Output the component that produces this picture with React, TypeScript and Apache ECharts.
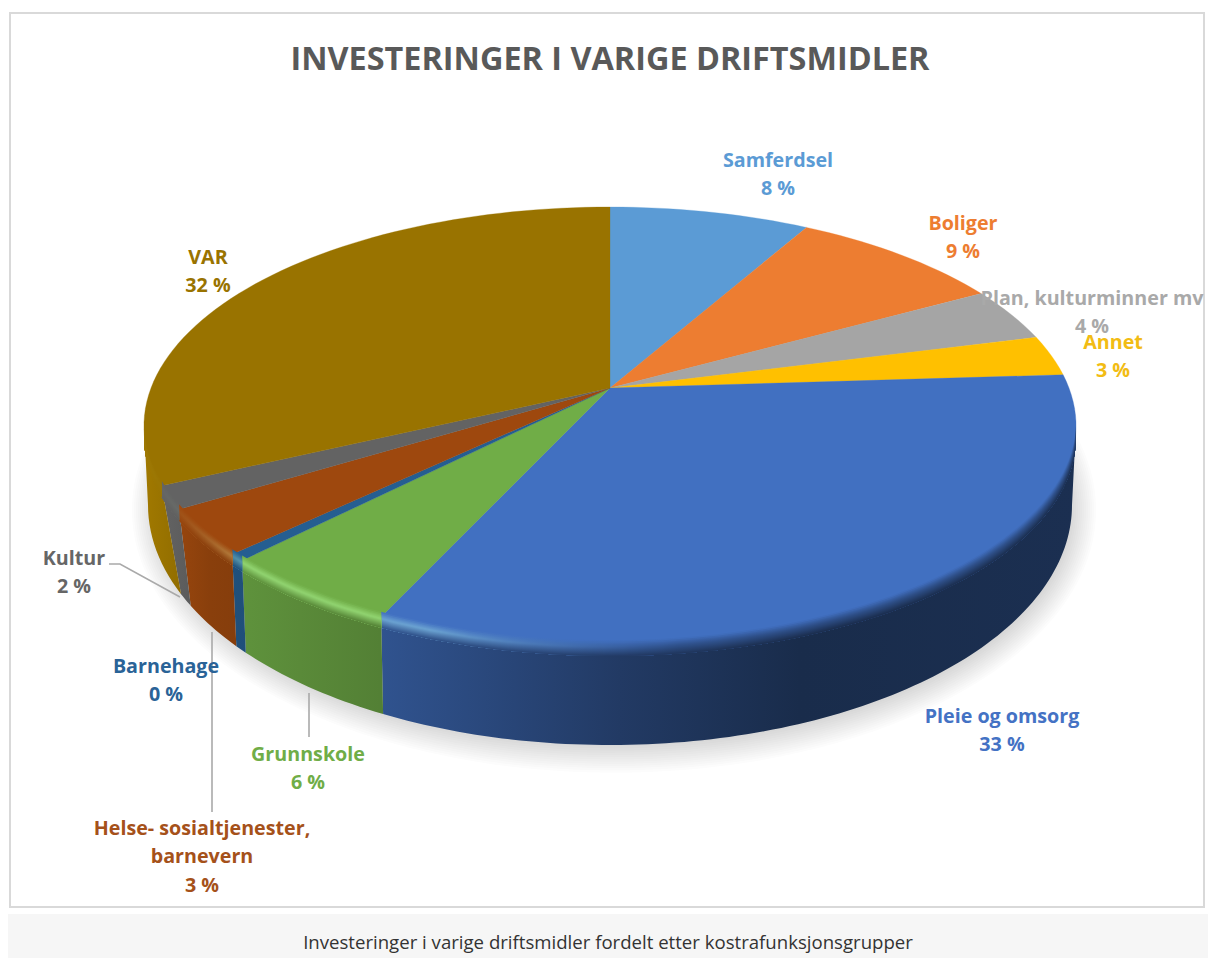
import React, { useEffect, useRef } from "react";
import * as echarts from "echarts";

const categories = ["Samferdsel", "Boliger", "Plan, kulturminner mv", "Annet", "Pleie og omsorg", "Grunnskole", "Barnehage", "Helse- sosialtjenester,\nbarnevern", "Kultur", "VAR"];
const values = [8.2, 8.8, 4.0, 3.0, 32.9, 5.5, 0.5, 3.4, 1.7, 32.0];
const percentLabels = ["8 %", "9 %", "4 %", "3 %", "33 %", "6 %", "0 %", "3 %", "2 %", "32 %"];
const colors = ["#5B9BD5", "#ED7D31", "#A5A5A5", "#FFC000", "#4170C1", "#70AD47", "#255E91", "#9E480E", "#636363", "#997300"];
const titleText = "INVESTERINGER I VARIGE DRIFTSMIDLER";
const captionText = "Investeringer i varige driftsmidler fordelt etter kostrafunksjonsgrupper";

// layout only
const labelAnchors: number[][] = [[778, 159], [963, 222], [1092, 297], [1113, 341], [1002, 715], [308, 753], [166, 665], [202, 827], [74, 557], [208, 256]];
const labelColors = ["#5B9BD5", "#ED7D31", "#A9A9A9", "#F2BC14", "#4472C4", "#70AD47", "#2A6397", "#A5511A", "#666666", "#997300"];
const leaders: number[][][] = [[[109, 564], [120, 564], [180, 597]], [[212, 632], [212, 812]], [[309, 693], [309, 737]]];

const APEX_X = 610, APEX_Y = 388, R = 459, A = 212.4, K = 0.1735;
const TOP_CY = 426, TOP_RX = 466, TOP_RY = 219;
const BOT_CY = 505, BOT_RX = 462, BOT_RY = 240;
const total = values.reduce((a, b) => a + b, 0);
const cumulative = values.reduce((acc: number[], v) => { acc.push(acc[acc.length - 1] + v); return acc; }, [0]);

function topPoint(share: number): number[] {
  const t = (share / total) * 2 * Math.PI;
  const X = Math.sin(t), Y = -Math.cos(t), d = 1 - K * Y;
  return [APEX_X + (R * X) / d, APEX_Y + (A * Y) / d];
}
function phiOf(share: number): number {
  const p = topPoint(share);
  let f = Math.atan2((p[1] - TOP_CY) / TOP_RY, (p[0] - APEX_X) / TOP_RX);
  if (f < -Math.PI / 2 - 1e-6) f += 2 * Math.PI;
  if (share >= total - 1e-6) f = 1.5 * Math.PI;
  return f;
}
const rim = (f: number) => [APEX_X + TOP_RX * Math.cos(f), TOP_CY + TOP_RY * Math.sin(f)];
const base = (f: number) => [APEX_X + BOT_RX * Math.cos(f), BOT_CY + BOT_RY * Math.sin(f)];
function warp(f: number): number {
  if (f <= 0 || f >= Math.PI) return f;
  const c = Math.cos(f);
  const c2 = c * (1 - 0.065 * Math.pow(Math.abs(c), 16));
  return Math.atan2(Math.sqrt(1 - c2 * c2), c2);
}
function rgb(h: string): number[] {
  return [parseInt(h.slice(1, 3), 16), parseInt(h.slice(3, 5), 16), parseInt(h.slice(5, 7), 16)];
}
const css = (c: number[]) => `rgb(${c.map((v) => Math.max(0, Math.min(255, Math.round(v)))).join(",")})`;
const mix = (a: number[], b: number[], t: number) => a.map((v, i) => v + (b[i] - v) * t);
const shadeStops: number[][] = [[144, 1.05], [210, 0.87], [300, 0.8], [380, 0.74], [620, 0.52], [800, 0.39], [1076, 0.42]];
function shadeAt(x: number): number {
  if (x <= shadeStops[0][0]) return shadeStops[0][1];
  for (let i = 1; i < shadeStops.length; i++) {
    if (x <= shadeStops[i][0]) {
      const [x0, s0] = shadeStops[i - 1], [x1, s1] = shadeStops[i];
      return s0 + ((s1 - s0) * (x - x0)) / (x1 - x0);
    }
  }
  return shadeStops[shadeStops.length - 1][1];
}
function sideFill(i: number) {
  const c = rgb(colors[i]);
  return {
    type: "linear", x: 144, y: 0, x2: 1076, y2: 0, global: true,
    colorStops: shadeStops.map(([x, s]) => ({ offset: (x - 144) / (1076 - 144), color: css(c.map((v) => v * s)) })),
  };
}
function frontRange(i: number): number[] | null {
  const a = Math.max(phiOf(cumulative[i]), 0), b = Math.min(phiOf(cumulative[i + 1]), Math.PI);
  return b > a ? [a, b] : null;
}
function highlight(x: number): number {
  const right = x < 430 ? 1 : x > 680 ? 0 : (680 - x) / 250;
  const left = x > 240 ? 1 : x < 160 ? 0.25 : 0.25 + (0.75 * (x - 160)) / 80;
  return right * left;
}

function renderShadow() {
  const children: any[] = [];
  for (let n = 0; n < 14; n++) {
    children.push({
      type: "ellipse",
      shape: { cx: APEX_X + 4, cy: BOT_CY + 5, rx: BOT_RX - 6 + n * 2, ry: BOT_RY - 6 + n * 2.2 },
      style: { fill: "rgba(60,55,50,0.015)" },
    });
  }
  return { type: "group", children };
}
function renderSide(params: any) {
  const i = params.dataIndex;
  const range = frontRange(i);
  if (!range) return { type: "group", children: [] };
  const [a, b] = range;
  const a2 = warp(a), b2 = warp(b);
  const pts: number[][] = [];
  const steps = Math.max(2, Math.ceil((b - a) / 0.02));
  for (let s = 0; s <= steps; s++) pts.push(rim(a + ((b - a) * s) / steps));
  for (let s = steps; s >= 0; s--) pts.push(base(a2 + ((b2 - a2) * s) / steps));
  return { type: "polygon", shape: { points: pts }, style: { fill: sideFill(i), stroke: null } };
}
function renderTop(params: any, api: any) {
  const i = params.dataIndex;
  const c0 = cumulative[i], v = api.value(0);
  const steps = Math.max(2, Math.ceil(v * 2));
  const pts: number[][] = [[APEX_X, APEX_Y]];
  for (let s = 0; s <= steps; s++) pts.push(topPoint(c0 + (v * s) / steps));
  return { type: "polygon", shape: { points: pts }, style: { fill: colors[i], stroke: colors[i], lineWidth: 0.3 } };
}
const bandEdges = [-5, -3.5, -2, -1, 0, 1, 2, 3, 4, 5, 6, 7, 8, 9, 10, 11];
const CREST = 2;
function bandColor(i: number, x: number, d: number): string {
  const top = rgb(colors[i]);
  const side = top.map((v) => v * shadeAt(x));
  const h = highlight(x);
  const lit = mix(top, [255, 255, 255], 0.2 * h).map((v, k) => v + (k === 1 ? 22 * h : 4 * h));
  const crest = mix(mix(top, side, 0.5), lit, h);
  if (d <= CREST) return css(mix(top, crest, (d + 5) / (CREST + 5)));
  return css(mix(crest, side, Math.min(1, (d - CREST) / 9)));
}
function renderBevel(params: any) {
  const i = params.dataIndex;
  const range = frontRange(i);
  if (!range) return { type: "group", children: [] };
  const [a, b] = range;
  const steps = Math.max(2, Math.ceil((b - a) / 0.03));
  const arc: number[][] = [];
  for (let s = 0; s <= steps; s++) arc.push(rim(a + ((b - a) * s) / steps));
  const xs = arc.map((p) => p[0]);
  const x0 = Math.min(...xs), x1 = Math.max(...xs);
  const children: any[] = [];
  const last = bandEdges[bandEdges.length - 1];
  for (let k = 0; k < bandEdges.length - 1; k++) {
    const d0 = bandEdges[k], d1 = bandEdges[k + 1];
    const colorStops: any[] = [];
    for (let n = 0; n <= 14; n++) {
      const x = x0 + ((x1 - x0) * n) / 14;
      colorStops.push({ offset: n / 14, color: bandColor(i, x, (d0 + d1) / 2) });
    }
    const pts = [...arc.map((p) => [p[0], p[1] + d0]), ...arc.slice().reverse().map((p) => [p[0], p[1] + last])];
    children.push({
      type: "polygon",
      shape: { points: pts },
      style: { fill: { type: "linear", x: x0, y: 0, x2: x1, y2: 0, global: true, colorStops }, stroke: null },
    });
  }
  return { type: "group", children };
}
function renderLabel(params: any) {
  const i = params.dataIndex;
  const lines = [...categories[i].split("\n"), percentLabels[i]];
  const [cx, y0] = labelAnchors[i];
  return {
    type: "group",
    children: lines.map((text, n) => ({
      type: "text",
      style: { x: cx, y: y0 + n * 28.8, text, fill: labelColors[i], font: "bold 19.7px 'Open Sans'", align: "center", verticalAlign: "middle" },
    })),
  };
}
function renderLeader(params: any) {
  return {
    type: "polyline",
    shape: { points: leaders[params.dataIndex] },
    style: { fill: null, stroke: "#a9a9a9", lineWidth: 1.6 },
  };
}

export default function App() {
  const ref = useRef<HTMLDivElement>(null);
  useEffect(() => {
    const chart = echarts.init(ref.current!, null, { renderer: "svg" });
    const common = { type: "custom", coordinateSystem: "none", silent: true, animation: false, clip: false };
    chart.setOption({
      animation: false,
      backgroundColor: "#ffffff",
      title: {
        text: titleText, left: 605, top: 36, textAlign: "center",
        textStyle: { color: "#595959", fontFamily: "'Open Sans'", fontWeight: "bold", fontSize: 32.4 },
      },
      graphic: [
        { type: "rect", shape: { x: 10, y: 13, width: 1194, height: 894 }, style: { fill: "#ffffff", stroke: "#d9d9d9", lineWidth: 2 }, z: -1 },
        { type: "rect", shape: { x: 8, y: 914, width: 1200, height: 44 }, style: { fill: "#f6f6f6" }, z: -1 },
        { type: "text", style: { x: 608, y: 941, text: captionText, fill: "#333333", font: "18.6px 'Open Sans'", align: "center", verticalAlign: "middle" } },
      ],
      series: [
        { ...common, z: 2, name: "shadow", data: [0], renderItem: renderShadow },
        { ...common, z: 3, name: "sides", data: values, renderItem: renderSide },
        { ...common, z: 4, name: "tops", data: values, renderItem: renderTop },
        { ...common, z: 5, name: "bevel", data: values, renderItem: renderBevel },
        { ...common, z: 6, name: "leaders", data: leaders.map((_, i) => i), renderItem: renderLeader },
        { ...common, z: 7, name: "labels", data: values, renderItem: renderLabel },
      ],
    });
    return () => chart.dispose();
  }, []);
  return <div ref={ref} style={{ position: "absolute", left: 0, top: 0, width: 1208, height: 958 }} />;
}
